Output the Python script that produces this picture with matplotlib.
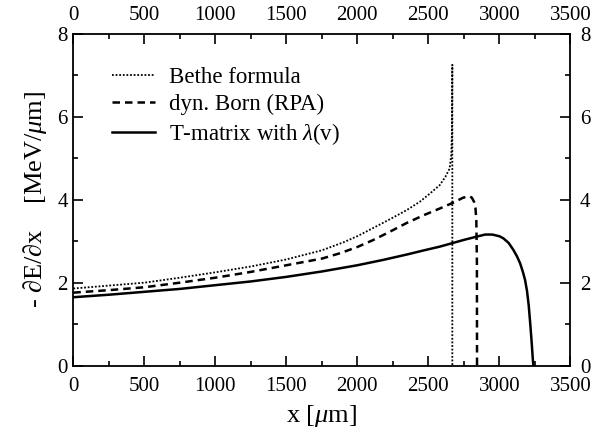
import matplotlib
matplotlib.use('Agg')
import matplotlib.pyplot as plt
from matplotlib.ticker import MultipleLocator
from matplotlib.transforms import ScaledTranslation

plt.rcParams['font.family'] = 'Liberation Serif'
plt.rcParams['mathtext.fontset'] = 'custom'
plt.rcParams['mathtext.rm'] = 'Liberation Serif'
plt.rcParams['mathtext.it'] = 'Liberation Serif:italic'

# Bethe formula (dotted)
bethe_x = [0, 250, 500, 750, 1000, 1250, 1500, 1750, 1900, 2000, 2113, 2230,
           2348, 2440, 2512, 2580, 2620, 2650, 2662, 2666, 2668, 2669, 2669]
bethe_y = [1.86, 1.93, 2.00, 2.12, 2.25, 2.39, 2.56, 2.78, 2.97, 3.12, 3.32, 3.53,
           3.75, 3.95, 4.15, 4.35, 4.55, 4.75, 5.1, 5.6, 6.4, 7.25, 0.0]

# dyn. Born (RPA) (dashed)
born_x = [0, 250, 500, 750, 1000, 1250, 1500, 1750, 1878, 2000, 2113, 2230,
          2348, 2470, 2582, 2676, 2746, 2790, 2806, 2822, 2832, 2838, 2842, 2843]
born_y = [1.76, 1.82, 1.89, 2.0, 2.12, 2.26, 2.42, 2.58, 2.71, 2.86, 3.03, 3.23,
          3.44, 3.63, 3.79, 3.93, 4.05, 4.08, 4.05, 3.95, 3.8, 3.5, 2.5, 0.0]

# T-matrix with lambda(v) (solid)
tmat_x = [0, 250, 500, 750, 1000, 1250, 1500, 1750, 2000, 2183, 2350, 2470,
          2582, 2676, 2760, 2841, 2900, 2950, 3000, 3028, 3065, 3099, 3125,
          3146, 3165, 3181, 3195, 3207, 3218, 3228, 3236, 3240]
tmat_y = [1.65, 1.71, 1.78, 1.85, 1.94, 2.03, 2.14, 2.27, 2.42, 2.55, 2.68, 2.78,
          2.87, 2.96, 3.04, 3.11, 3.16, 3.16, 3.12, 3.07, 2.96, 2.79, 2.63,
          2.47, 2.27, 2.07, 1.80, 1.45, 1.0, 0.55, 0.15, 0.0]


def main():
    fig = plt.figure(figsize=(6.09, 4.32), dpi=100)
    ax = fig.add_axes([0.1204, 0.1535, 0.8161, 0.7685])

    ax.plot(bethe_x, bethe_y, color='black', lw=1.3, linestyle=(0, (1, 1)),
            label='Bethe formula')
    ax.plot(born_x, born_y, color='black', lw=1.8, linestyle=(0, (3, 2)),
            label='dyn. Born (RPA)')
    ax.plot(tmat_x, tmat_y, color='black', lw=1.8, linestyle='-',
            label=r'T-matrix with $\lambda$(v)')

    ax.set_xlim(0, 3500)
    ax.set_ylim(0, 8)
    ax.xaxis.set_major_locator(MultipleLocator(500))
    ax.xaxis.set_minor_locator(MultipleLocator(250))
    ax.yaxis.set_major_locator(MultipleLocator(2))
    ax.yaxis.set_minor_locator(MultipleLocator(1))
    ax.tick_params(which='both', direction='in', top=True, right=True,
                   labeltop=True, labelright=True, labelsize=15)
    ax.tick_params(axis='x', which='both', pad=8.5)
    ax.tick_params(axis='y', which='both', pad=4)
    ax.tick_params(which='major', length=7, width=1.2)
    ax.tick_params(which='minor', length=3.5, width=1.2)
    for s in ax.spines.values():
        s.set_linewidth(1.3)

    ax.set_xlabel(r'x [$\mu$m]', fontsize=19, labelpad=5)
    ax.set_ylabel(r'- $\partial$E/$\partial$x    [MeV/$\mu$m]', fontsize=19,
                  labelpad=6)

    ax.legend(loc='upper left', frameon=False, fontsize=16.5, handlelength=1.9,
              handletextpad=0.6, labelspacing=0.25,
              bbox_to_anchor=(0.036, 0.962))

    # top labels sit a bit closer to the frame, right labels a bit further
    fig.canvas.draw()
    up = ScaledTranslation(0, -2.5 / 72, fig.dpi_scale_trans)
    right = ScaledTranslation(3 / 72, 0, fig.dpi_scale_trans)
    for t in ax.xaxis.get_major_ticks():
        t.label2.set_transform(t.label2.get_transform() + up)
    for t in ax.yaxis.get_major_ticks():
        t.label2.set_transform(t.label2.get_transform() + right)

    fig.savefig('out.png', dpi=100)


if __name__ == "__main__":
    main()
